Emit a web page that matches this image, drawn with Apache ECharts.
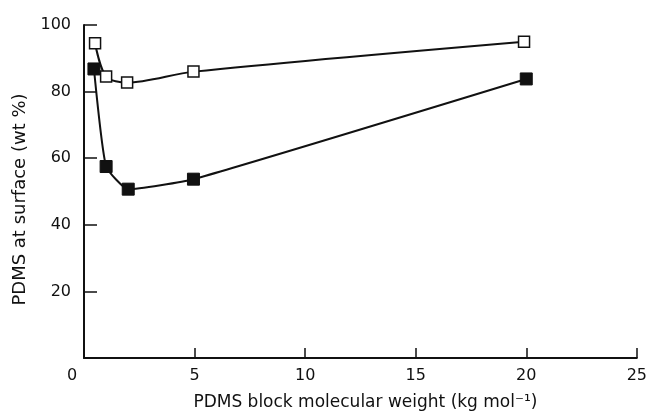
<!DOCTYPE html>
<html>
<head>
<meta charset="utf-8">
<script src="https://cdn.jsdelivr.net/npm/echarts@6/dist/echarts.min.js"></script>
<style>
    html, body { margin: 0; padding: 0; background: #fff; }
    #chart { width: 650px; height: 416px; }
</style>
</head>
<body>
<div id="chart"></div>
<script>
// 数据：PDMS 嵌段分子量 与 表面 PDMS 含量
var openX = [0.5, 1.0, 1.95, 4.95, 19.9];
var openY = [94.5, 84.5, 82.7, 86.0, 95.0];
var filledX = [0.45, 1.0, 2.0, 4.95, 20.0];
var filledY = [86.8, 57.5, 50.7, 53.7, 83.8];
var xTicks = [0, 5, 10, 15, 20, 25];
var yTicks = [20, 40, 60, 80, 100];

function pairs(xs, ys) {
    return xs.map(function (x, i) { return [x, ys[i]]; });
}

var chart = echarts.init(document.getElementById('chart'));

var axisFont = 'DejaVu Sans';

option = {
    animation: false,
    grid: {
        left: 84,
        right: 11,
        top: 25,
        bottom: 56
    },
    xAxis: {
        type: 'value',
        min: 0,
        max: 25,
        interval: 5,
        name: 'PDMS block molecular weight (kg mol⁻¹)',
        nameLocation: 'middle',
        nameGap: 36,
        nameTextStyle: {
            color: '#111',
            fontFamily: axisFont,
            fontSize: 17,
            padding: [0, 0, 0, 10]
        },
        axisLine: {
            lineStyle: { color: '#111', width: 2 }
        },
        axisTick: {
            inside: true,
            length: 10,
            lineStyle: { color: '#111', width: 1.5 }
        },
        axisLabel: {
            color: '#111',
            fontFamily: axisFont,
            fontSize: 16,
            margin: 10,
            formatter: function (v) {
                if (v === 0) return '{z|0}';
                return xTicks.indexOf(v) >= 0 ? String(v) : '';
            },
            rich: {
                z: {
                    color: '#111',
                    fontFamily: axisFont,
                    fontSize: 16,
                    padding: [0, 24, 0, 0]
                }
            }
        },
        splitLine: { show: false }
    },
    yAxis: {
        type: 'value',
        min: 0,
        max: 100,
        interval: 20,
        name: 'PDMS at surface (wt %)',
        nameLocation: 'middle',
        nameGap: 52,
        nameTextStyle: {
            color: '#111',
            fontFamily: axisFont,
            fontSize: 18,
            padding: [0, 16, 0, 0]
        },
        axisLine: {
            show: true,
            lineStyle: { color: '#111', width: 2 }
        },
        axisTick: {
            show: true,
            inside: true,
            length: 13,
            lineStyle: { color: '#111', width: 1.5 }
        },
        axisLabel: {
            color: '#111',
            fontFamily: axisFont,
            fontSize: 16,
            margin: 13,
            formatter: function (v) {
                return yTicks.indexOf(v) >= 0 ? String(v) : '';
            }
        },
        splitLine: { show: false }
    },
    series: [{
        name: 'open',
        type: 'line',
        data: pairs(openX, openY),
        smooth: 0.3,
        symbol: 'rect',
        symbolSize: 11,
        itemStyle: {
            color: '#fff',
            borderColor: '#111',
            borderWidth: 1.5
        },
        lineStyle: { color: '#111', width: 2 },
        z: 3
    }, {
        name: 'filled',
        type: 'line',
        data: pairs(filledX, filledY),
        smooth: 0.15,
        symbol: 'rect',
        symbolSize: 12,
        itemStyle: {
            color: '#111',
            borderColor: '#111',
            borderWidth: 1
        },
        lineStyle: { color: '#111', width: 2 },
        z: 3
    }]
};

chart.setOption(option);
</script>
</body>
</html>
